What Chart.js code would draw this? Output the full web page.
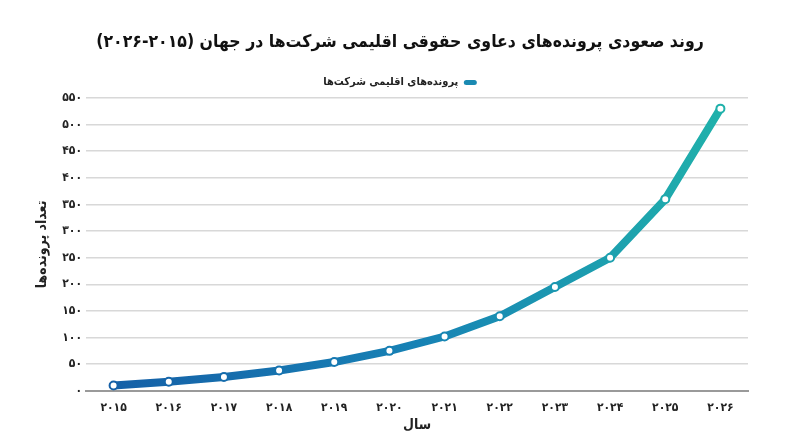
<!DOCTYPE html>
<html lang="fa">
<head>
<meta charset="utf-8">
<title>روند صعودی پرونده‌های دعاوی حقوقی اقلیمی</title>
<script src="https://cdn.jsdelivr.net/npm/chart.js@4.4.1/dist/chart.umd.min.js"></script>
<style>
    html, body { margin: 0; padding: 0; background: #ffffff; }
    #wrap { width: 800px; height: 447px; }
</style>
</head>
<body>
<div id="wrap"><canvas id="climateCasesChart" width="800" height="447"></canvas></div>
<script>
// data
const years = ["۲۰۱۵", "۲۰۱۶", "۲۰۱۷", "۲۰۱۸", "۲۰۱۹", "۲۰۲۰", "۲۰۲۱", "۲۰۲۲", "۲۰۲۳", "۲۰۲۴", "۲۰۲۵", "۲۰۲۶"];
const caseCounts = [10, 17, 26, 38, 54, 75, 102, 140, 195, 250, 360, 530];
const yTickValues = [0, 50, 100, 150, 200, 250, 300, 350, 400, 450, 500, 550];
const yTickLabels = ["۰", "۵۰", "۱۰۰", "۱۵۰", "۲۰۰", "۲۵۰", "۳۰۰", "۳۵۰", "۴۰۰", "۴۵۰", "۵۰۰", "۵۵۰"];

const chartTitle = "روند صعودی پرونده‌های دعاوی حقوقی اقلیمی شرکت‌ها در جهان (۲۰۱۵-۲۰۲۶)";
const seriesName = "پرونده‌های اقلیمی شرکت‌ها";
const yAxisTitle = "تعداد پرونده‌ها";
const xAxisTitle = "سال";

const FONT = "'DejaVu Sans Condensed', 'DejaVu Sans', sans-serif";

// blue -> teal gradient across the plot width
function lineGradient(context) {
    const chart = context.chart;
    const area = chart.chartArea;
    if (!area) {
        return "#1870ad";
    }
    const g = chart.ctx.createLinearGradient(area.left, 0, area.right, 0);
    g.addColorStop(0, "#155da6");
    g.addColorStop(0.5, "#1782b5");
    g.addColorStop(1, "#21b5aa");
    return g;
}

const chartData = {
    labels: years,
    datasets: [{
        label: seriesName,
        data: caseCounts,
        borderColor: lineGradient,
        backgroundColor: "#1a8ab2",
        borderWidth: 8,
        borderCapStyle: "round",
        borderJoinStyle: "round",
        tension: 0,
        fill: false,
        pointRadius: 4,
        pointHoverRadius: 4,
        pointBackgroundColor: "#ffffff",
        pointBorderColor: lineGradient,
        pointBorderWidth: 2
    }]
};

const chartOptions = {
    responsive: false,
    animation: false,
    layout: {
        padding: { left: 0, right: 0, top: 6, bottom: 9 }
    },
    plugins: {
        title: {
            display: true,
            text: chartTitle,
            color: "#111111",
            font: { family: FONT, size: 17.5, weight: "bold" },
            padding: { top: 26, bottom: 14 }
        },
        legend: {
            display: true,
            rtl: true,
            labels: {
                color: "#222222",
                font: { family: FONT, size: 11, weight: "bold" },
                boxWidth: 13,
                boxHeight: 5,
                useBorderRadius: true,
                borderRadius: 2.5,
                generateLabels: function (chart) {
                    return [{
                        text: seriesName,
                        fillStyle: "#1a8ab2",
                        strokeStyle: "#1a8ab2",
                        lineWidth: 0,
                        fontColor: "#222222",
                        datasetIndex: 0,
                        borderRadius: 2.5
                    }];
                }
            }
        },
        tooltip: { enabled: false }
    },
    scales: {
        x: {
            offset: true,
            grid: { display: false },
            border: { display: true, color: "#9a9a9a", width: 2 },
            ticks: {
                color: "#222222",
                font: { family: FONT, size: 12, weight: "bold" },
                padding: 2
            },
            title: {
                display: true,
                text: xAxisTitle,
                color: "#222222",
                font: { family: FONT, size: 14, weight: "bold" },
                padding: { top: 0 }
            }
        },
        y: {
            min: 0,
            max: 550,
            afterBuildTicks: function (axis) {
                axis.ticks = yTickValues.map(v => ({ value: v }));
            },
            afterFit: function (axis) {
                axis.width = 86;
            },
            grid: { color: "#d8d8d8", lineWidth: 1.5, drawTicks: false },
            border: { display: false },
            ticks: {
                color: "#222222",
                font: { family: FONT, size: 12, weight: "bold" },
                padding: 4,
                callback: function (value) {
                    const i = yTickValues.indexOf(value);
                    return i >= 0 ? yTickLabels[i] : "";
                }
            },
            title: {
                display: true,
                text: yAxisTitle,
                color: "#222222",
                font: { family: FONT, size: 14, weight: "bold" },
                padding: { top: 34, bottom: 0 }
            }
        },
        // empty right-hand axis that only keeps the white margin on the right
        yRight: {
            position: "right",
            min: 0,
            max: 550,
            afterFit: function (axis) {
                axis.width = 52;
            },
            grid: { display: false },
            border: { display: false },
            ticks: { display: false }
        }
    }
};

const ctx = document.getElementById("climateCasesChart").getContext("2d");
new Chart(ctx, {
    type: "line",
    data: chartData,
    options: chartOptions
});
</script>
</body>
</html>
